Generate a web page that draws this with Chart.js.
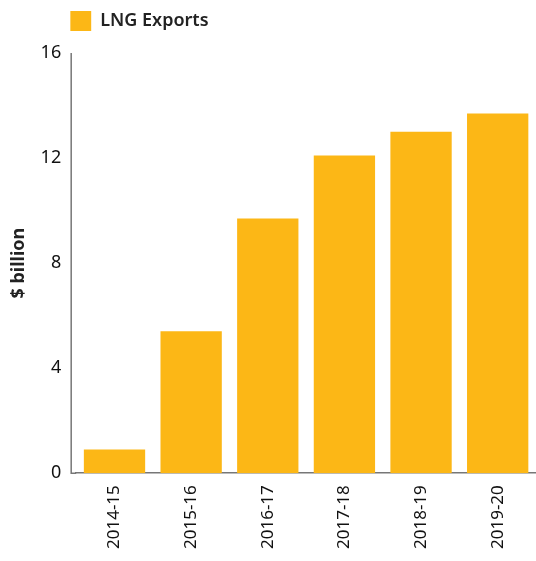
<!DOCTYPE html>
<html>
<head>
<meta charset="utf-8">
<script src="https://cdn.jsdelivr.net/npm/chart.js@4"></script>
<style>
  html, body { margin: 0; padding: 0; background: #fff; }
  #wrap { width: 536px; height: 561px; position: relative; }
</style>
</head>
<body>
<div id="wrap"><canvas id="lngChart"></canvas></div>
<script>
// values
let years = ['2014-15', '2015-16', '2016-17', '2017-18', '2018-19', '2019-20'];
let lngExports = [0.9, 5.4, 9.7, 12.1, 13.0, 13.7];
let yTicks = [0, 4, 8, 12, 16];

Chart.defaults.font.family = '"Noto Sans", sans-serif';
Chart.defaults.color = '#111';

let axisGap = 5; // y axis line sits a little left of the first bar slot

// extra room under the legend, legend lined up with the axis line
let legendGap = {
    id: 'legendGap',
    beforeInit(chart) {
        let origFit = chart.legend.fit;
        chart.legend.fit = function () {
            origFit.bind(chart.legend)();
            this.height += 12;
        };
    },
    afterLayout(chart) {
        chart.legend.left -= 6;
    }
};

// y axis line drawn a few px left of the plot area
let yAxisLine = {
    id: 'yAxisLine',
    afterDraw(chart) {
        let ctx = chart.ctx;
        let area = chart.chartArea;
        let x = area.left - axisGap;
        ctx.save();
        ctx.strokeStyle = '#777';
        ctx.lineWidth = 1.5;
        ctx.beginPath();
        ctx.moveTo(x, area.top);
        ctx.lineTo(x, area.bottom);
        ctx.lineTo(area.left, area.bottom);
        ctx.stroke();
        ctx.restore();
    }
};

let lngChart = new Chart(document.getElementById('lngChart'), {
    type: 'bar',
    data: {
        labels: years,
        datasets: [{
            label: 'LNG Exports',
            data: lngExports,
            backgroundColor: '#FCB716',
            borderWidth: 0,
            categoryPercentage: 0.8,
            barPercentage: 1.0
        }]
    },
    options: {
        responsive: true,
        maintainAspectRatio: false,
        animation: false,
        layout: {
            padding: { left: -5, right: -6, top: 11, bottom: 8 }
        },
        plugins: {
            legend: {
                position: 'top',
                align: 'start',
                fullSize: false,
                labels: {
                    boxWidth: 21,
                    boxHeight: 20,
                    padding: 0,
                    color: '#222',
                    font: { size: 18, weight: '600' }
                }
            },
            tooltip: { enabled: false }
        },
        scales: {
            x: {
                grid: { display: false },
                border: { display: true, color: '#777', width: 1.5 },
                ticks: {
                    minRotation: 90,
                    maxRotation: 90,
                    padding: 4,
                    font: { size: 17 }
                }
            },
            y: {
                min: 0,
                max: 16,
                afterBuildTicks: axis => {
                    axis.ticks = yTicks.map(v => ({ value: v }));
                },
                grid: { display: false },
                border: { display: false },
                ticks: {
                    padding: 2 + axisGap,
                    font: { size: 18 }
                },
                title: {
                    display: true,
                    text: '$ billion',
                    color: '#222',
                    padding: { top: 13, bottom: 4 },
                    font: { size: 18, weight: 'bold' }
                }
            }
        }
    },
    plugins: [legendGap, yAxisLine]
});
</script>
</body>
</html>
